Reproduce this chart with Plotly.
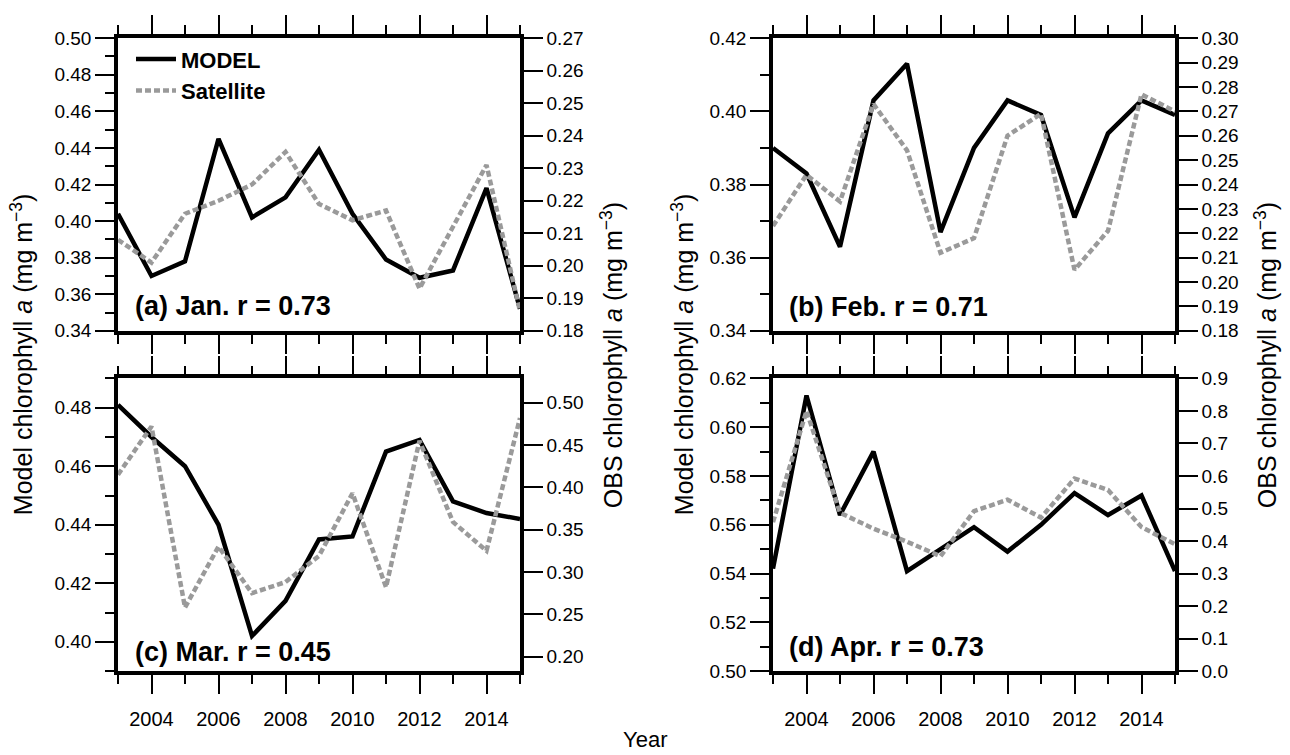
import plotly.graph_objects as go

years = list(range(2003, 2016))

model_jan = [0.404, 0.370, 0.378, 0.445, 0.402, 0.413, 0.439, 0.404, 0.379, 0.369, 0.373, 0.418, 0.352]
sat_jan = [0.208, 0.201, 0.216, 0.220, 0.225, 0.235, 0.219, 0.214, 0.217, 0.193, 0.212, 0.231, 0.186]
model_feb = [0.390, 0.383, 0.363, 0.403, 0.413, 0.367, 0.390, 0.403, 0.399, 0.371, 0.394, 0.403, 0.399]
sat_feb = [0.223, 0.244, 0.233, 0.273, 0.254, 0.212, 0.218, 0.260, 0.269, 0.205, 0.221, 0.277, 0.270]
model_mar = [0.481, 0.470, 0.460, 0.440, 0.402, 0.414, 0.435, 0.436, 0.465, 0.469, 0.448, 0.444, 0.442]
sat_mar = [0.415, 0.472, 0.258, 0.330, 0.275, 0.288, 0.319, 0.393, 0.282, 0.455, 0.359, 0.325, 0.482]
model_apr = [0.542, 0.613, 0.564, 0.590, 0.541, 0.550, 0.559, 0.549, 0.560, 0.573, 0.564, 0.572, 0.541]
sat_apr = [0.458, 0.800, 0.487, 0.438, 0.398, 0.353, 0.492, 0.527, 0.472, 0.592, 0.557, 0.443, 0.390]

panel_labels = ["(a) Jan. r = 0.73", "(b) Feb. r = 0.71", "(c) Mar. r = 0.45", "(d) Apr. r = 0.73"]
model_title = "Model chlorophyll <i>a</i> (mg m<sup>−3</sup>)"
obs_title = "OBS chlorophyll <i>a</i> (mg m<sup>−3</sup>)"

W, H = 1290, 755
FONT = "Liberation Sans, Arial, sans-serif"
NARROW = "Liberation Sans Narrow, Liberation Sans, Arial, sans-serif"
GRAY = "#9a9a9a"

# panel boxes in pixels (left, right, top, bottom)
boxes = [(118, 520, 29, 330), (773, 1175, 29, 330), (118, 520, 379, 680), (773, 1175, 379, 680)]

# axis specs: (left range, left dtick, right range, right dtick, right fmt)
specs = [
    ([0.34, 0.50], 0.02, [0.18, 0.27], 0.01, ".2f"),
    ([0.34, 0.42], 0.02, [0.18, 0.30], 0.01, ".2f"),
    ([0.39, 0.49], 0.02, [0.1828, 0.5287], 0.05, ".2f"),
    ([0.50, 0.62], 0.02, [0.0, 0.9], 0.1, ".1f"),
]
models = [model_jan, model_feb, model_mar, model_apr]
sats = [sat_jan, sat_feb, sat_mar, sat_apr]

fig = go.Figure()
layout = dict(
    width=W, height=H,
    margin=dict(l=0, r=0, t=0, b=0),
    paper_bgcolor="white", plot_bgcolor="white",
    font=dict(family=FONT, size=19, color="black"),
    showlegend=True,
    legend=dict(x=131 / W, y=1 - 29 / H, xanchor="left", yanchor="top",
                bgcolor="rgba(0,0,0,0)", traceorder="grouped", tracegroupgap=0,
                font=dict(family=FONT, size=22, color="black", weight="bold"),
                itemwidth=40),
)

for i in range(4):
    l, r, t, b = boxes[i]
    xn = "x" if i == 0 else f"x{i+1}"
    yl = 2 * i + 1
    yr = 2 * i + 2
    yln = "y" if yl == 1 else f"y{yl}"
    yrn = f"y{yr}"
    lr, ldt, rr, rdt, rfmt = specs[i]
    bottom_row = i >= 2

    layout["xaxis" if i == 0 else f"xaxis{i+1}"] = dict(
        domain=[l / W, r / W], anchor=yln, range=[2003, 2015],
        tickmode="linear", tick0=2004, dtick=2,
        ticks="outside", ticklen=19, tickwidth=1.5, tickcolor="black",
        minor=dict(tickmode="linear", tick0=2003, dtick=1, ticks="outside", ticklen=9,
                   tickwidth=1.5, tickcolor="black", showgrid=False),
        showline=True, linewidth=3.5, linecolor="black", mirror="ticks",
        showgrid=False, zeroline=False,
        showticklabels=bottom_row, ticklabelstandoff=8,
        tickfont=dict(family=NARROW, size=20),
    )
    layout["yaxis" if yl == 1 else f"yaxis{yl}"] = dict(
        domain=[1 - b / H, 1 - t / H], anchor=xn, range=lr,
        tickmode="linear", tick0=0.0, dtick=ldt, tickformat=".2f",
        ticks="outside", ticklen=19, tickwidth=1.5, tickcolor="black",
        minor=dict(tickmode="linear", tick0=0.0, dtick=ldt / 2, ticks="outside", ticklen=9,
                   tickwidth=1.5, tickcolor="black", showgrid=False),
        showline=True, linewidth=3.5, linecolor="black", mirror=False,
        showgrid=False, zeroline=False,
        tickfont=dict(family=FONT, size=19),
    )
    layout[f"yaxis{yr}"] = dict(
        overlaying=yln, anchor=xn, side="right", range=rr,
        tickmode="linear", tick0=0.0, dtick=rdt, tickformat=rfmt,
        ticks="outside", ticklen=19, tickwidth=1.5, tickcolor="black",
        showline=True, linewidth=3.5, linecolor="black",
        showgrid=False, zeroline=False,
        tickfont=dict(family=FONT, size=19),
    )

    fig.add_trace(go.Scatter(
        x=years, y=sats[i], xaxis=xn, yaxis=yrn, mode="lines",
        line=dict(color=GRAY, width=4.5, dash="6px,3px"),
        name="Satellite", legendgroup="sat", showlegend=(i == 0), legendrank=2,
    ))
    fig.add_trace(go.Scatter(
        x=years, y=models[i], xaxis=xn, yaxis=yln, mode="lines",
        line=dict(color="black", width=4.5),
        name="MODEL", legendgroup="model", showlegend=(i == 0), legendrank=1,
    ))

annotations = []
label_pos = [(133, 304), (787, 306), (133, 660), (787, 655)]
for (px, py), txt in zip(label_pos, panel_labels):
    annotations.append(dict(
        text=f"<b>{txt}</b>", x=px / W, y=1 - py / H, xref="paper", yref="paper",
        xanchor="left", yanchor="middle", showarrow=False,
        font=dict(family=FONT, size=27, color="black"),
    ))

for px, txt in [(22, model_title), (612, obs_title), (683, model_title), (1266, obs_title)]:
    annotations.append(dict(
        text=txt, x=px / W, y=1 - 355 / H, xref="paper", yref="paper",
        xanchor="center", yanchor="middle", textangle=-90, showarrow=False,
        font=dict(family=FONT, size=25, color="black"),
    ))

annotations.append(dict(
    text="Year", x=645 / W, y=1 - 750 / H, xref="paper", yref="paper",
    xanchor="center", yanchor="middle", showarrow=False,
    font=dict(family=NARROW, size=22, color="black"),
))

layout["annotations"] = annotations
fig.update_layout(**layout)
fig.write_html("out.html")
